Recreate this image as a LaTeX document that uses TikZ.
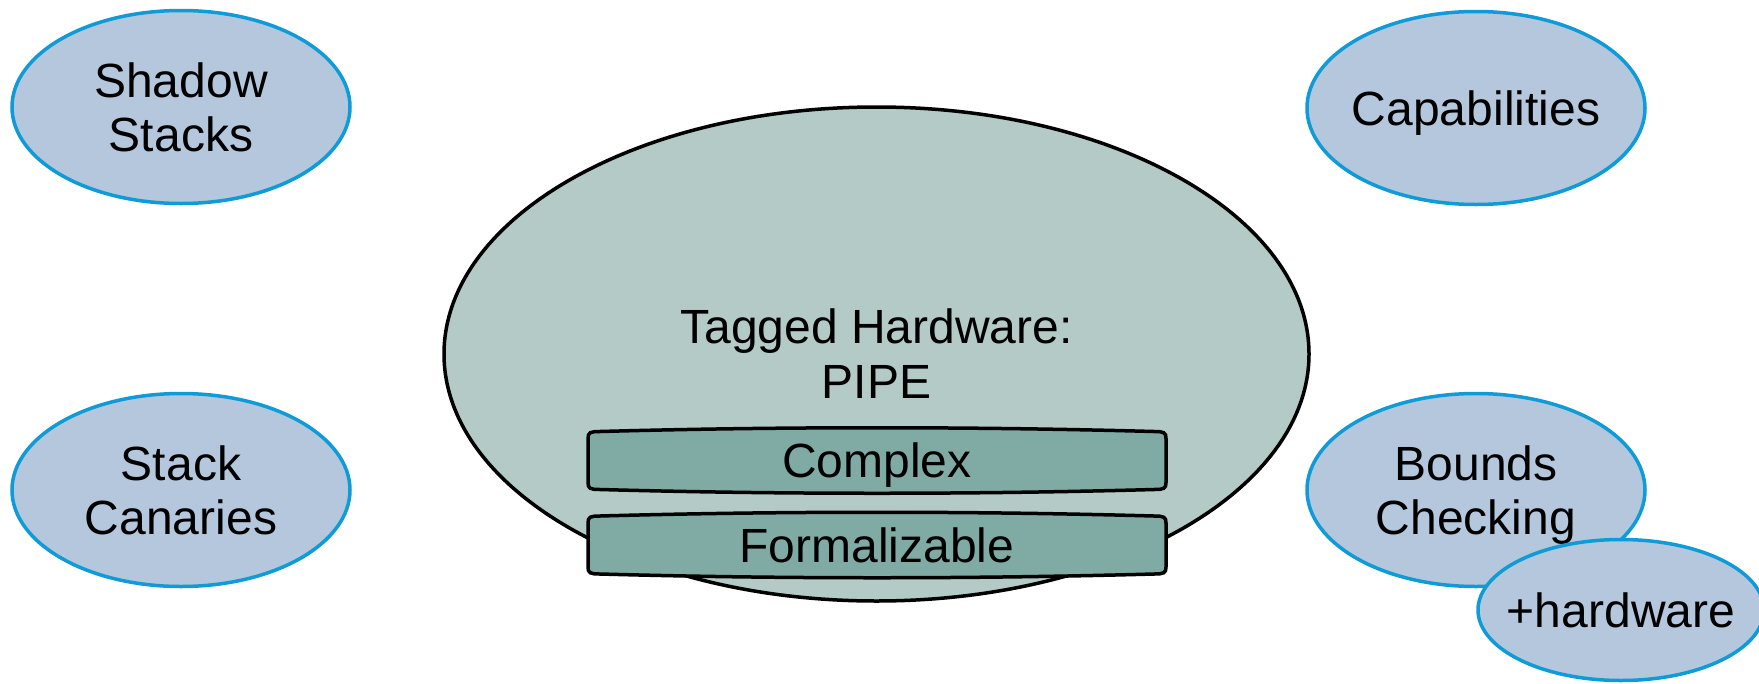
\documentclass[tikz,border=0pt]{standalone}
\usepackage{fontspec}
\setmainfont{Liberation Sans}
\usetikzlibrary{shapes.geometric}

\definecolor{coreFill}{RGB}{179,202,199}
\definecolor{ideaFill}{RGB}{180,199,220}
\definecolor{ideaLine}{RGB}{14,155,216}
\definecolor{tagFill}{RGB}{128,171,165}

% scroll-like banner centred at the given point (half width, half height)
\newcommand\bannerpath[3]{%
  \draw[bannerline] ([shift={(-#2,-#3+7)}]#1)
    -- ([shift={(-#2,#3-7)}]#1)
    .. controls ([shift={(-#2,#3-1)}]#1) and ([shift={(-#2+2,#3)}]#1) .. ([shift={(-#2+12,#3)}]#1)
    .. controls ([shift={(-#2/3,#3+5)}]#1) and ([shift={(#2/3,#3+5)}]#1) .. ([shift={(#2-12,#3)}]#1)
    .. controls ([shift={(#2-2,#3)}]#1) and ([shift={(#2,#3-1)}]#1) .. ([shift={(#2,#3-7)}]#1)
    -- ([shift={(#2,-#3+7)}]#1)
    .. controls ([shift={(#2,-#3+1)}]#1) and ([shift={(#2-2,-#3)}]#1) .. ([shift={(#2-12,-#3)}]#1)
    .. controls ([shift={(#2/3,-#3-5)}]#1) and ([shift={(-#2/3,-#3-5)}]#1) .. ([shift={(-#2+12,-#3)}]#1)
    .. controls ([shift={(-#2+2,-#3)}]#1) and ([shift={(-#2,-#3+1)}]#1) .. cycle;}

\begin{document}
\begin{tikzpicture}[x=1pt,y=-1pt,
  idea/.style={ellipse, draw=ideaLine, line width=3.5pt, fill=ideaFill,
    inner sep=0pt, minimum width=338pt, minimum height=193pt},
  label/.style={inner sep=0pt, align=center, text depth=0pt,
    font=\fontsize{48}{54}\selectfont},
  core/.style={ellipse, draw=black, line width=3.5pt, fill=coreFill,
    inner sep=0pt, minimum width=865pt, minimum height=494pt,
    align=center, font=\fontsize{48}{55}\selectfont},
  bannerline/.style={draw=black, line width=3.5pt, fill=tagFill}]

\useasboundingbox (0,0) rectangle (1759,683);

% surrounding techniques
\node[idea] (shadow) at (181,107) {};
\node[label] (shadowtxt) at (shadow) {Shadow\\Stacks};
\node[idea] (canary) at (181,490) {};
\node[label] (canarytxt) at (canary) {Stack\\Canaries};
\node[idea] (caps) at (1476,108) {};
\node[label] (capstxt) at (caps) {Capabilities};
\node[idea] (bounds) at (1476,490) {};
\node[label] (boundstxt) at (bounds) {Bounds\\Checking};
\node[idea, minimum width=286pt, minimum height=141pt] (hw) at (1621,610) {};
\node[label] (hwtxt) at (hw) {+hardware};

% central approach
\node[core] (pipe) at (876.5,354) {Tagged Hardware:\\PIPE};

% property banners
\coordinate (cpos) at (877,460.5);
\coordinate (fpos) at (877,545);
\bannerpath{cpos}{289}{29}
\node[label] (complex) at (cpos) {Complex};
\bannerpath{fpos}{289}{29}
\node[label] (formal) at (fpos) {Formalizable};

\end{tikzpicture}
\end{document}
